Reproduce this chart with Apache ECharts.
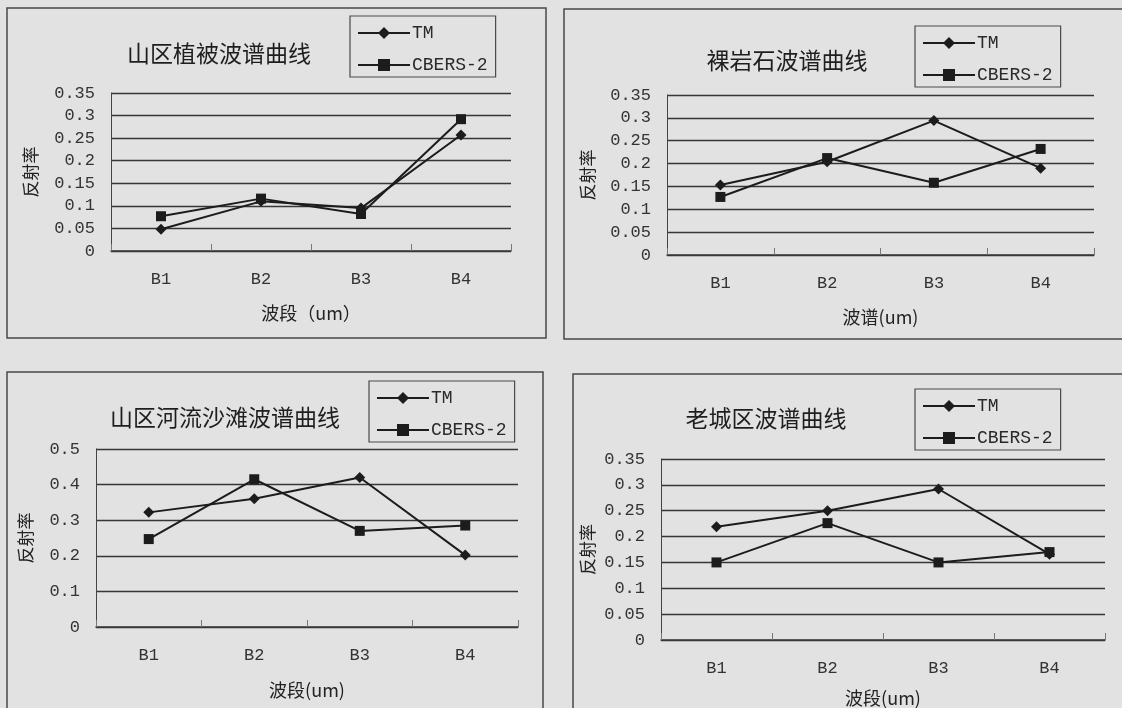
<!DOCTYPE html>
<html>
<head>
<meta charset="utf-8">
<title>波谱曲线</title>
<script src="https://cdn.jsdelivr.net/npm/echarts@6/dist/echarts.min.js"></script>
<style>
  html, body { margin: 0; padding: 0; background: #e2e2e2; }
  #chart { width: 1122px; height: 708px; }
</style>
</head>
<body>
<div id="chart"></div>
<script>
// Band categories and reflectance values for each land cover type
const bands = ['B1', 'B2', 'B3', 'B4'];
const seriesNames = ['TM', 'CBERS-2'];

const vegTM   = [0.048, 0.110, 0.095, 0.257];
const vegCB   = [0.077, 0.116, 0.082, 0.292];
const rockTM  = [0.153, 0.204, 0.294, 0.190];
const rockCB  = [0.127, 0.212, 0.158, 0.232];
const riverTM = [0.322, 0.360, 0.420, 0.202];
const riverCB = [0.247, 0.415, 0.270, 0.285];
const cityTM  = [0.219, 0.250, 0.292, 0.166];
const cityCB  = [0.150, 0.226, 0.150, 0.170];

const titles = ['山区植被波谱曲线', '裸岩石波谱曲线', '山区河流沙滩波谱曲线', '老城区波谱曲线'];
const xNames = ['波段（um）', '波谱(um)', '波段(um)', '波段(um)'];
const yName = '反射率';
const yMax = [0.35, 0.35, 0.5, 0.35];
const yStep = [0.05, 0.05, 0.1, 0.05];
const values = [[vegTM, vegCB], [rockTM, rockCB], [riverTM, riverCB], [cityTM, cityCB]];

// Panel layout: frame, plot area, title centre, legend corner, axis-name gaps
const panels = [
  { frame: [7, 8, 539, 330],   grid: [111, 93, 400, 158], title: [219, 53],  legend: [350, 16],  xGap: 53, yGap: 72 },
  { frame: [564, 9, 600, 330], grid: [667, 95, 427, 160], title: [787, 60],  legend: [915, 26],  xGap: 53, yGap: 71 },
  { frame: [7, 372, 536, 400], grid: [96, 449, 422, 178], title: [225, 417], legend: [369, 381], xGap: 54, yGap: 62 },
  { frame: [573, 374, 600, 400], grid: [661, 459, 444, 181], title: [766, 418], legend: [915, 389], xGap: 49, yGap: 65 }
];

const INK = '#1c1c1c';
const CJK = '"Noto Sans CJK SC", sans-serif';
const MONO = '"Liberation Mono", monospace';

const option = {
  backgroundColor: '#e2e2e2',
  animation: false,
  title: [], legend: [], grid: [], xAxis: [], yAxis: [], series: [],
  graphic: { elements: [] }
};

panels.forEach((p, i) => {
  option.graphic.elements.push({
    type: 'rect', silent: true, z: 0,
    shape: { x: p.frame[0], y: p.frame[1], width: p.frame[2], height: p.frame[3] },
    style: { fill: 'none', stroke: '#484848', lineWidth: 1.5 }
  });

  option.title.push({
    text: titles[i], left: p.title[0], top: p.title[1], padding: 0,
    textAlign: 'center', textVerticalAlign: 'middle',
    textStyle: { fontFamily: CJK, fontSize: 23, fontWeight: 'normal', color: '#1e1e1e' }
  });

  option.legend.push({
    data: seriesNames, orient: 'vertical',
    left: p.legend[0], top: p.legend[1],
    padding: [8, 8, 3, 7], itemGap: 14, itemWidth: 52, itemHeight: 15,
    borderColor: '#4a4a4a', borderWidth: 1.2, backgroundColor: '#e2e2e2',
    textStyle: { fontFamily: MONO, fontSize: 18, color: '#2a2a2a', padding: [0, 0, 0, -3] },
    selectedMode: false
  });

  option.grid.push({ left: p.grid[0], top: p.grid[1], width: p.grid[2], height: p.grid[3] });

  option.xAxis.push({
    type: 'category', gridIndex: i, data: bands, boundaryGap: true,
    name: xNames[i], nameLocation: 'middle', nameGap: p.xGap,
    nameTextStyle: { fontFamily: CJK, fontSize: 18, color: '#222' },
    axisLine: { lineStyle: { color: '#3a3a3a', width: 1.5 } },
    axisTick: { show: true, inside: true, length: 7, lineStyle: { color: '#777' } },
    axisLabel: { fontFamily: MONO, fontSize: 17, color: '#333', margin: 20 },
    splitLine: { show: false }
  });

  option.yAxis.push({
    type: 'value', gridIndex: i, min: 0, max: yMax[i], interval: yStep[i],
    name: yName, nameLocation: 'middle', nameGap: p.yGap, nameRotate: 90,
    nameTextStyle: { fontFamily: CJK, fontSize: 17, color: '#222' },
    axisLine: { show: true, lineStyle: { color: '#444', width: 1 } },
    axisTick: { show: false },
    axisLabel: { fontFamily: MONO, fontSize: 17, color: '#333', margin: 16 },
    splitLine: { show: true, lineStyle: { color: '#363636', width: 1.3 } }
  });

  seriesNames.forEach((name, k) => {
    option.series.push({
      type: 'line', name: name, xAxisIndex: i, yAxisIndex: i,
      data: values[i][k],
      symbol: k === 0 ? 'diamond' : 'rect',
      symbolSize: k === 0 ? 11 : 10,
      lineStyle: { color: INK, width: 2 },
      itemStyle: { color: INK },
      z: 3 + k
    });
  });
});

const chart = echarts.init(document.getElementById('chart'), null, { renderer: 'canvas' });
chart.setOption(option);
</script>
</body>
</html>
